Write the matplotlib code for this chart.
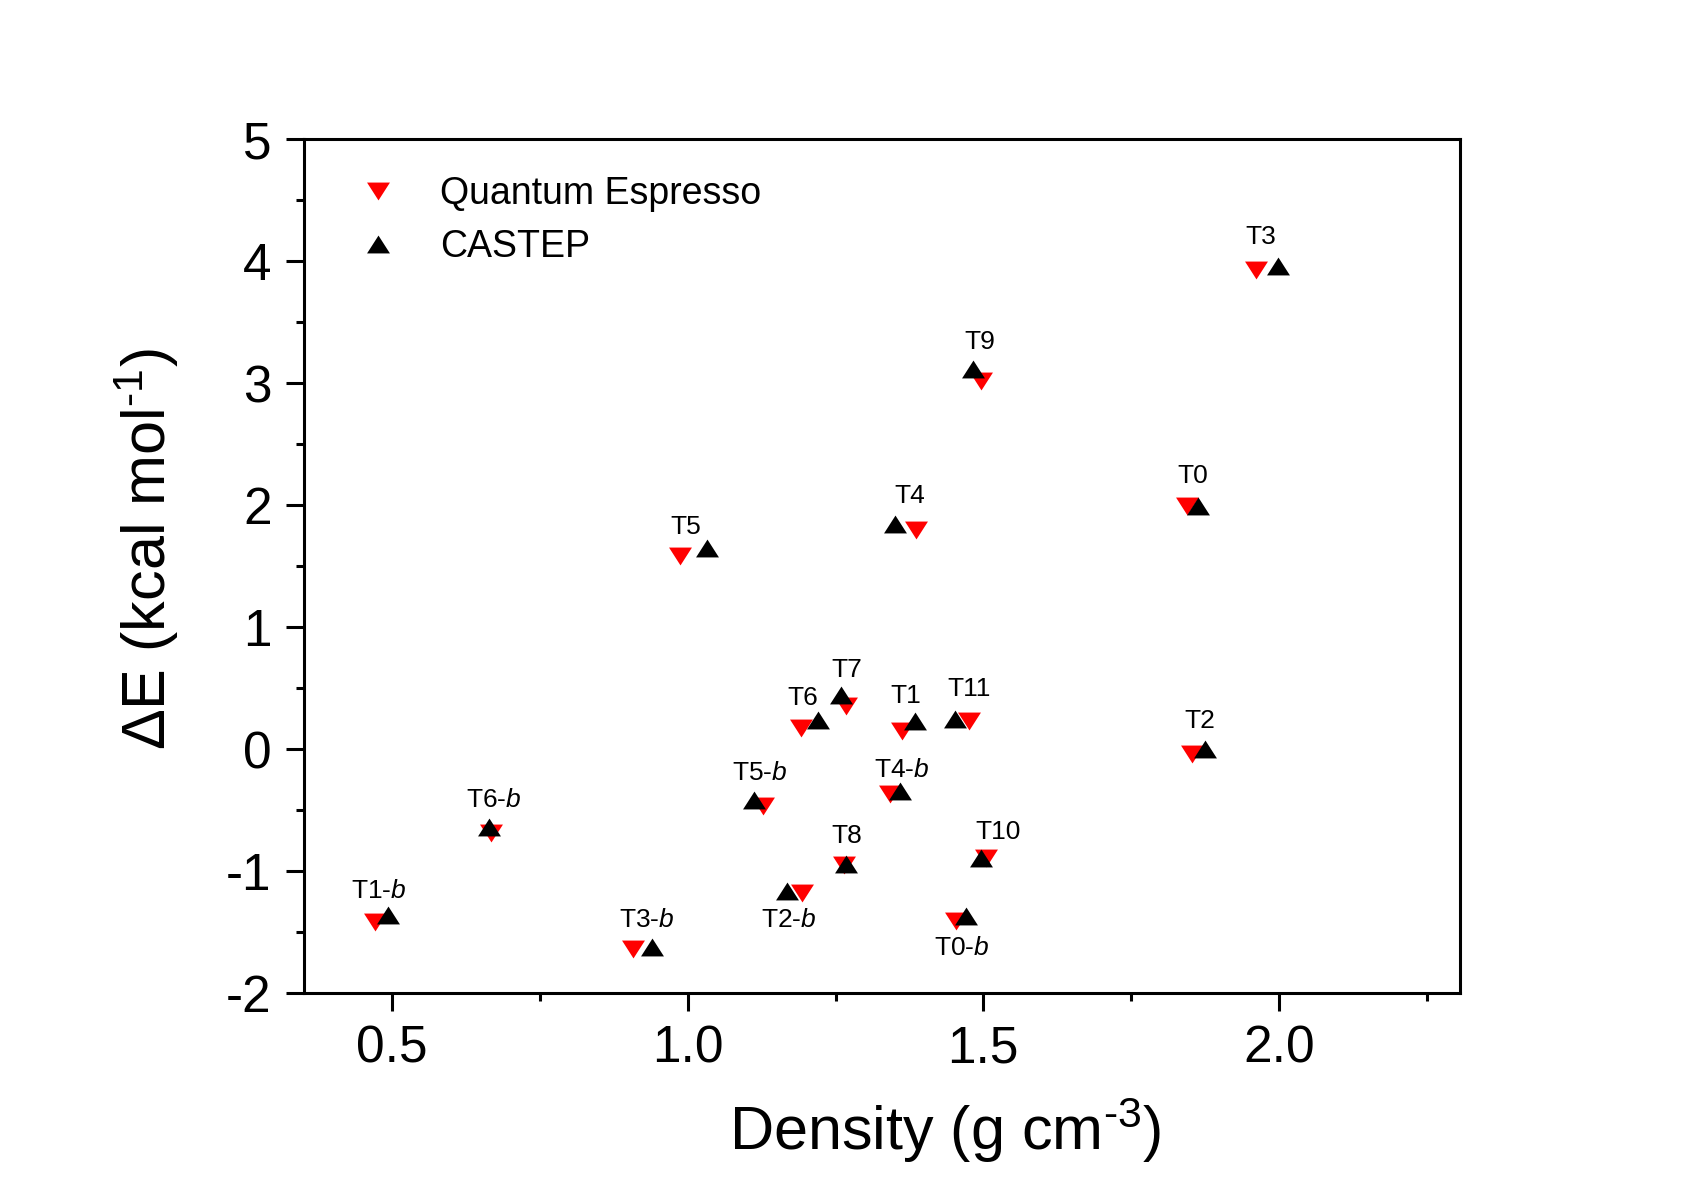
import matplotlib
matplotlib.use("Agg")
import matplotlib.pyplot as plt
import numpy as np

plt.rcParams['font.family'] = ['Liberation Sans', 'DejaVu Sans']
plt.rcParams['mathtext.fontset'] = 'custom'
plt.rcParams['mathtext.rm'] = 'Liberation Sans'
plt.rcParams['mathtext.it'] = 'Liberation Sans:italic'
plt.rcParams['mathtext.default'] = 'regular'

# ---- data ----
names = ["T1-b", "T6-b", "T3-b", "T5", "T5-b", "T2-b", "T6", "T7", "T8", "T4-b",
         "T1", "T4", "T0-b", "T11", "T9", "T10", "T2", "T0", "T3"]
qe_density = [0.471, 0.667, 0.908, 0.987, 1.128, 1.194, 1.192, 1.267, 1.264, 1.342,
              1.363, 1.386, 1.454, 1.476, 1.496, 1.504, 1.853, 1.844, 1.962]
qe_energy = [-1.42, -0.69, -1.64, 1.58, -0.47, -1.18, 0.17, 0.35, -0.95, -0.37,
             0.15, 1.80, -1.41, 0.23, 3.02, -0.89, -0.04, 1.99, 3.93]
ca_density = [0.493, 0.663, 0.940, 1.033, 1.112, 1.168, 1.220, 1.260, 1.267, 1.359,
              1.385, 1.350, 1.471, 1.452, 1.483, 1.496, 1.875, 1.863, 1.998]
ca_energy = [-1.36, -0.64, -1.62, 1.65, -0.42, -1.16, 0.24, 0.44, -0.94, -0.34,
             0.23, 1.85, -1.37, 0.25, 3.12, -0.89, 0.00, 1.99, 3.96]

# label offsets (points) relative to the CASTEP marker
label_dx = [-7, 4, -4, -15.6, 4, 1, -11, 4, 1, 1, -7, 11, -3, 10, 4.7, 12.5, -4, -4, -12]
label_dy = [17, 19.5, 19.5, 14.8, 19.5, -21, 15.6, 18, 20, 15, 18, 19.5, -22.6, 21, 19.5, 18.7, 20, 22, 21]

# ---- figure ----
fig = plt.figure(figsize=(16.96, 11.92), dpi=100)
ax = fig.add_axes([0.179, 0.167, 0.682, 0.716])

down_tri = [(-1, 0.78), (1, 0.78), (0, -0.78), (-1, 0.78)]
up_tri = [(-1, -0.78), (1, -0.78), (0, 0.78), (-1, -0.78)]

ax.plot(qe_density, qe_energy, linestyle='none', marker=down_tri, markersize=16.5,
        color='#ff0000', markeredgewidth=0, label='Quantum Espresso')
ax.plot(ca_density, ca_energy, linestyle='none', marker=up_tri, markersize=16.5,
        color='black', markeredgewidth=0, label='CASTEP')

for n, x, y, dx, dy in zip(names, ca_density, ca_energy, label_dx, label_dy):
    if n.endswith('-b'):
        txt = n[:-1] + r'$\mathit{b}$'
    else:
        txt = n
    ax.annotate(txt, (x, y), xytext=(dx, dy), textcoords='offset points',
                ha='center', va='center', fontsize=19)

ax.set_xlim(0.35, 2.307)
ax.set_ylim(-2, 5)
ax.set_xticks([0.5, 1.0, 1.5, 2.0])
ax.set_xticklabels(['0.5', '1.0', '1.5', '2.0'])
ax.set_xticks(np.arange(0.75, 2.3, 0.5), minor=True)
ax.set_yticks(range(-2, 6))
ax.set_yticklabels(['-2', '-1', '0', '1', '2', '3', '4', '5'])
ax.set_yticks(np.arange(-1.5, 5, 1.0), minor=True)

ax.tick_params(which='both', direction='out', width=2.2, top=False, right=False,
               labelsize=37, colors='black')
ax.tick_params(which='major', length=13, pad=10)
ax.tick_params(which='minor', length=6)
for s in ax.spines.values():
    s.set_linewidth(2.2)

ax.set_xlabel('Density (g cm$^{\u2010 3}$)', fontsize=44)
ax.set_ylabel('\u0394E (kcal mol$^{\u20101}$)', fontsize=44)
ax.xaxis.set_label_coords(0.555, -0.12)
ax.yaxis.set_label_coords(-0.106, 0.52)

leg = ax.legend(loc='upper left', bbox_to_anchor=(0.035, 0.975), frameon=False,
                fontsize=27, handlelength=1.0, handletextpad=1.15, labelspacing=0.45,
                borderaxespad=0)

fig.savefig('out.png', dpi=100)
